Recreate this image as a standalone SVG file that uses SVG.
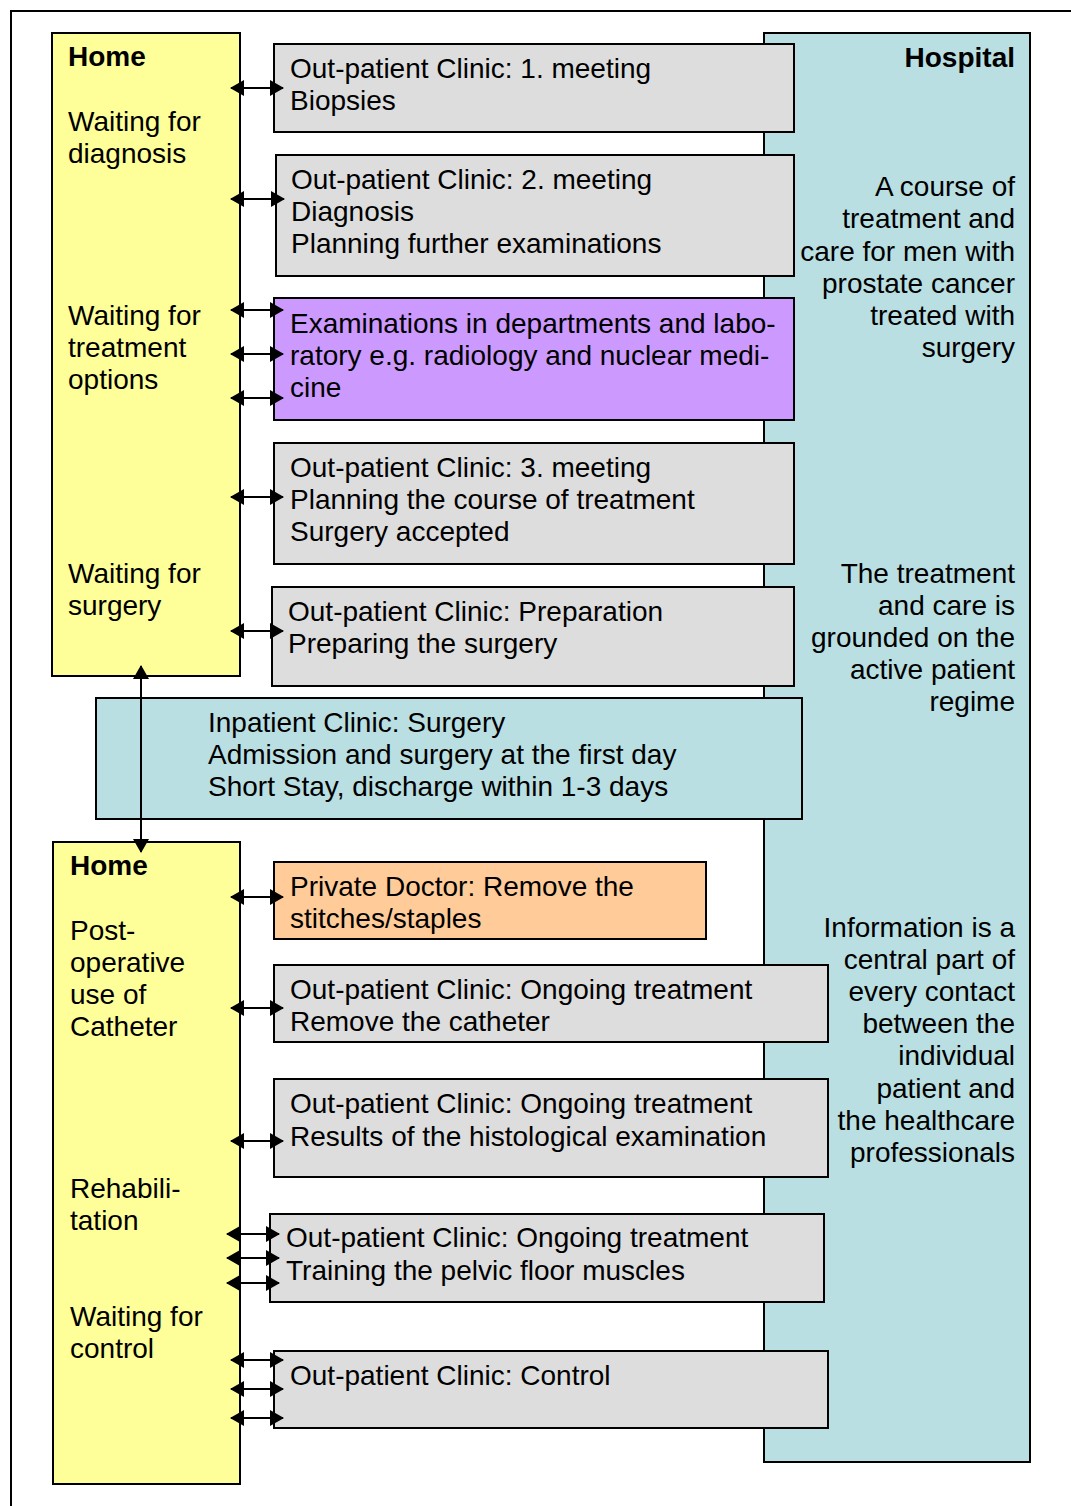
<svg xmlns="http://www.w3.org/2000/svg" width="1071" height="1506" viewBox="0 0 1071 1506">
<style>
text{font-family:"Liberation Sans",Arial,sans-serif;font-size:28px;fill:#000}
.b{font-weight:bold}
.r{text-anchor:end}
.box{stroke:#000;stroke-width:2}
.y{fill:#FFFF99}.g{fill:#DDDDDD}.p{fill:#CC99FF}.o{fill:#FFCC99}.t{fill:#B9DFE2}
.c{stroke:#000;stroke-width:2;fill:none;marker-start:url(#a);marker-end:url(#a)}
</style>
<defs>
<marker id="a" viewBox="0 0 14 16" refX="13" refY="8" markerWidth="14" markerHeight="16" orient="auto-start-reverse" markerUnits="userSpaceOnUse">
<path d="M0,0 L14,8 L0,16 z" fill="#000"/>
</marker>
</defs>
<rect width="1071" height="1506" fill="#fff"/>
<path d="M11,1506 V11 H1071" stroke="#000" stroke-width="2" fill="none"/>
<g id="hospital"><rect class="box t" x="764" y="33" width="266" height="1429"/>
<text class="b r" x="1015" y="67">Hospital</text>
<text class="r" x="1015" y="196">A course of</text>
<text class="r" x="1015" y="228">treatment and</text>
<text class="r" x="1015" y="261">care for men with</text>
<text class="r" x="1015" y="293">prostate cancer</text>
<text class="r" x="1015" y="325">treated with</text>
<text class="r" x="1015" y="357">surgery</text>
<text class="r" x="1015" y="583">The treatment</text>
<text class="r" x="1015" y="615">and care is</text>
<text class="r" x="1015" y="647">grounded on the</text>
<text class="r" x="1015" y="679">active patient</text>
<text class="r" x="1015" y="711">regime</text>
<text class="r" x="1015" y="937">Information is a</text>
<text class="r" x="1015" y="969">central part of</text>
<text class="r" x="1015" y="1001">every contact</text>
<text class="r" x="1015" y="1033">between the</text>
<text class="r" x="1015" y="1065">individual</text>
<text class="r" x="1015" y="1098">patient and</text>
<text class="r" x="1015" y="1130">the healthcare</text>
<text class="r" x="1015" y="1162">professionals</text>
</g>
<g id="home1"><rect class="box y" x="52" y="33" width="188" height="643"/>
<text class="b" x="68" y="66">Home</text>
<text x="68" y="131">Waiting for</text>
<text x="68" y="163">diagnosis</text>
<text x="68" y="325">Waiting for</text>
<text x="68" y="357">treatment</text>
<text x="68" y="389">options</text>
<text x="68" y="583">Waiting for</text>
<text x="68" y="615">surgery</text>
</g>
<g id="home2"><rect class="box y" x="53" y="842" width="187" height="642"/>
<text class="b" x="70" y="875">Home</text>
<text x="70" y="940">Post-</text>
<text x="70" y="972">operative</text>
<text x="70" y="1004">use of</text>
<text x="70" y="1036">Catheter</text>
<text x="70" y="1198">Rehabili-</text>
<text x="70" y="1230">tation</text>
<text x="70" y="1326">Waiting for</text>
<text x="70" y="1358">control</text>
</g>
<g id="inpatient"><rect class="box t" x="96" y="698" width="706" height="121"/>
<text x="208" y="732">Inpatient Clinic: Surgery</text>
<text x="208" y="764">Admission and surgery at the first day</text>
<text x="208" y="796">Short Stay, discharge within 1-3 days</text>
</g>
<g id="opc1"><rect class="box g" x="274" y="44" width="520" height="88"/>
<text x="290" y="78">Out-patient Clinic: 1. meeting</text>
<text x="290" y="110">Biopsies</text>
</g>
<g id="opc2"><rect class="box g" x="276" y="155" width="518" height="121"/>
<text x="291" y="189">Out-patient Clinic: 2. meeting</text>
<text x="291" y="221">Diagnosis</text>
<text x="291" y="253">Planning further examinations</text>
</g>
<g id="exam"><rect class="box p" x="274" y="298" width="520" height="122"/>
<text x="290" y="333">Examinations in departments and labo-</text>
<text x="290" y="365">ratory e.g. radiology and nuclear medi-</text>
<text x="290" y="397">cine</text>
</g>
<g id="opc3"><rect class="box g" x="274" y="443" width="520" height="121"/>
<text x="290" y="477">Out-patient Clinic: 3. meeting</text>
<text x="290" y="509">Planning the course of treatment</text>
<text x="290" y="541">Surgery accepted</text>
</g>
<g id="prep"><rect class="box g" x="272" y="587" width="522" height="99"/>
<text x="288" y="621">Out-patient Clinic: Preparation</text>
<text x="288" y="653">Preparing the surgery</text>
</g>
<g id="doctor"><rect class="box o" x="274" y="862" width="432" height="77"/>
<text x="290" y="896">Private Doctor: Remove the</text>
<text x="290" y="928">stitches/staples</text>
</g>
<g id="ongoing1"><rect class="box g" x="274" y="965" width="554" height="77"/>
<text x="290" y="999">Out-patient Clinic: Ongoing treatment</text>
<text x="290" y="1031">Remove the catheter</text>
</g>
<g id="ongoing2"><rect class="box g" x="274" y="1079" width="554" height="98"/>
<text x="290" y="1113">Out-patient Clinic: Ongoing treatment</text>
<text x="290" y="1146">Results of the histological examination</text>
</g>
<g id="ongoing3"><rect class="box g" x="270" y="1214" width="554" height="88"/>
<text x="286" y="1247">Out-patient Clinic: Ongoing treatment</text>
<text x="286" y="1280">Training the pelvic floor muscles</text>
</g>
<g id="control"><rect class="box g" x="274" y="1351" width="554" height="77"/>
<text x="290" y="1385">Out-patient Clinic: Control</text>
</g>
<g id="connectors">
<path class="c" d="M231,88 H283"/>
<path class="c" d="M231,199 H284"/>
<path class="c" d="M231,310 H283"/>
<path class="c" d="M231,354 H283"/>
<path class="c" d="M231,398 H283"/>
<path class="c" d="M231,497 H283"/>
<path class="c" d="M231,631 H283"/>
<path class="c" d="M141,666 V852"/>
<path class="c" d="M231,897 H283"/>
<path class="c" d="M231,1008 H283"/>
<path class="c" d="M231,1141 H283"/>
<path class="c" d="M227,1234 H279"/>
<path class="c" d="M227,1258 H279"/>
<path class="c" d="M227,1283 H279"/>
<path class="c" d="M231,1360 H283"/>
<path class="c" d="M231,1389 H283"/>
<path class="c" d="M231,1418 H283"/>
</g>
</svg>
